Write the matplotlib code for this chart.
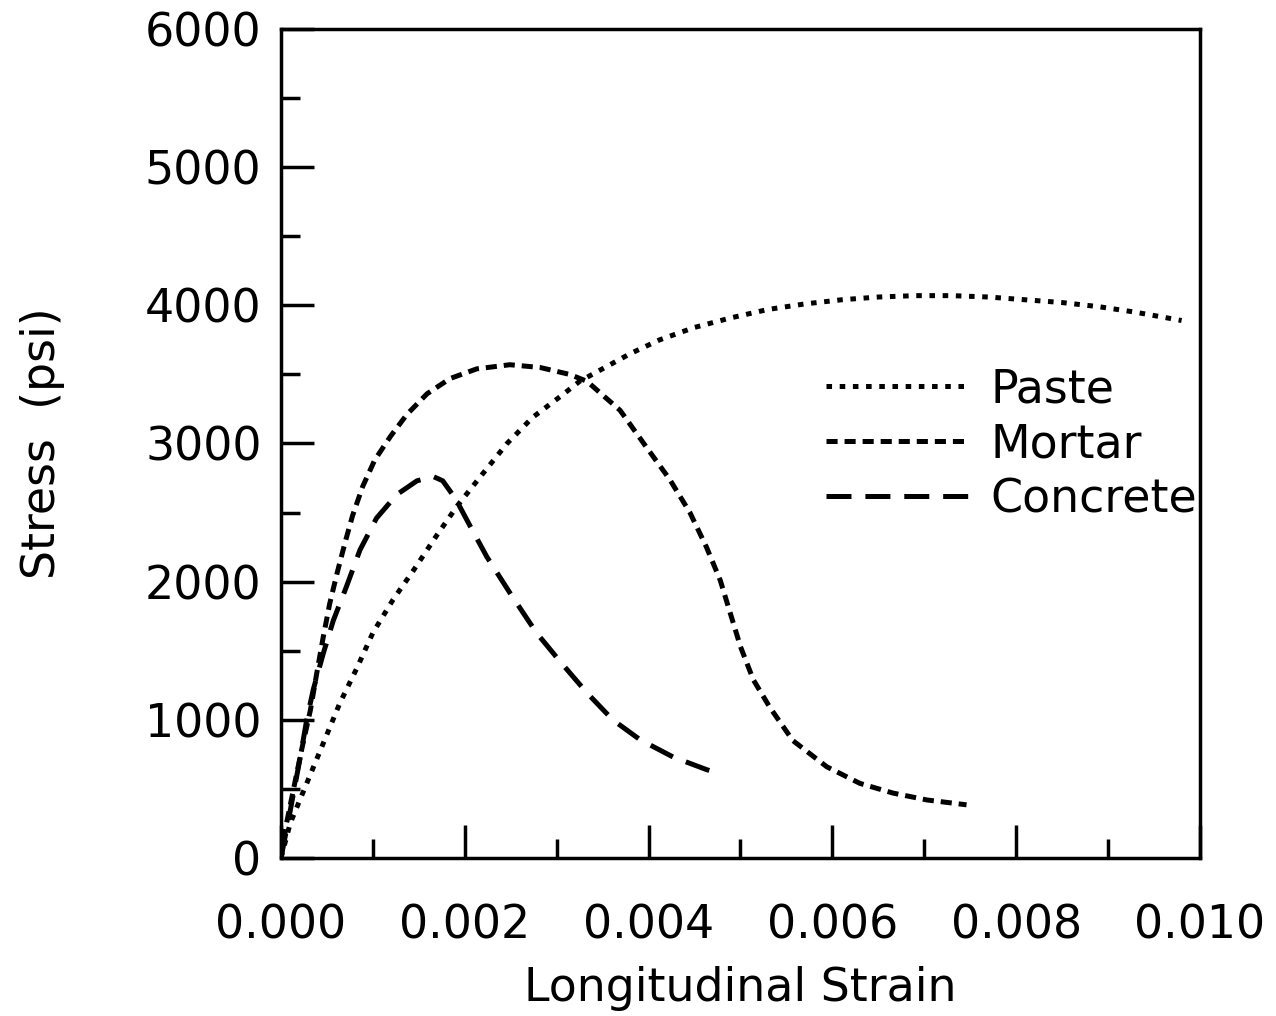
import matplotlib
matplotlib.use("Agg")
import matplotlib.pyplot as plt
from matplotlib.ticker import MultipleLocator

plt.rcParams['font.family'] = ['DejaVu Sans']
plt.rcParams['lines.scale_dashes'] = False

# stress-strain curves (strain, psi)
paste_strain = [0, 0.0001, 0.00028, 0.00046, 0.00064, 0.00083, 0.0010, 0.00122, 0.00144,
                0.0017, 0.00192, 0.00217, 0.00246, 0.00274, 0.00304, 0.00325, 0.00347,
                0.0038, 0.00412, 0.0045, 0.0049, 0.0053, 0.0057, 0.0061, 0.0065, 0.0069,
                0.0073, 0.0077, 0.0081, 0.0085, 0.0089, 0.0093, 0.0098]
paste_stress = [0, 250, 540, 830, 1120, 1380, 1630, 1870, 2080,
                2340, 2550, 2760, 3000, 3190, 3340, 3450, 3530,
                3650, 3750, 3840, 3910, 3970, 4010, 4040, 4060, 4070,
                4070, 4060, 4040, 4020, 3990, 3950, 3890]

mortar_strain = [0, 0.00006, 0.00014, 0.00023, 0.00032, 0.00039, 0.00046, 0.00053, 0.00061,
                 0.0007, 0.00078, 0.00089, 0.00102, 0.00119, 0.00137, 0.00159, 0.00184,
                 0.00213, 0.00249, 0.00282, 0.00314, 0.00333, 0.00369, 0.00398, 0.00423,
                 0.00445, 0.00463, 0.00478, 0.00489, 0.0050, 0.00514, 0.00532, 0.00557,
                 0.00594, 0.0063, 0.00666, 0.00703, 0.00746]
mortar_stress = [0, 250, 510, 800, 1070, 1340, 1600, 1840, 2060,
                 2290, 2480, 2690, 2880, 3050, 3210, 3360, 3470,
                 3540, 3570, 3550, 3500, 3450, 3240, 2970, 2740,
                 2500, 2250, 2010, 1770, 1530, 1290, 1090, 850,
                 660, 540, 470, 420, 385]

concrete_strain = [0, 0.0001, 0.00021, 0.00028, 0.00035, 0.00046, 0.00057, 0.00071, 0.00086,
                   0.00104, 0.00126, 0.00148, 0.00166, 0.00176, 0.0019, 0.00206, 0.00224,
                   0.00249, 0.00278, 0.00304, 0.00333, 0.00361, 0.00391, 0.00427, 0.00463,
                   0.0047]
concrete_stress = [0, 340, 730, 1000, 1215, 1480, 1720, 1960, 2230,
                   2460, 2630, 2730, 2760, 2730, 2600, 2400, 2180,
                   1920, 1630, 1420, 1195, 1000, 855, 730, 640,
                   625]

fig = plt.figure(figsize=(12.76, 10.16), dpi=100)
ax = fig.add_axes([0.2202, 0.1555, 0.7202, 0.816])

lw = 3.6
ax.plot(paste_strain, paste_stress, color='black', lw=lw,
        linestyle=(0, (4, 5.5)), label='Paste')
ax.plot(mortar_strain, mortar_stress, color='black', lw=lw,
        linestyle=(0, (8, 5)), label='Mortar')
ax.plot(concrete_strain, concrete_stress, color='black', lw=lw,
        linestyle=(0, (18, 10)), label='Concrete')

ax.set_xlim(0, 0.010)
ax.set_ylim(0, 6000)
ax.xaxis.set_major_locator(MultipleLocator(0.002))
ax.xaxis.set_minor_locator(MultipleLocator(0.001))
ax.yaxis.set_major_locator(MultipleLocator(1000))
ax.yaxis.set_minor_locator(MultipleLocator(500))
ax.xaxis.set_major_formatter(lambda v, p: f"{v:.3f}")

fs = 33
ax.tick_params(which='both', direction='in', top=False, right=False, width=2.5,
               labelsize=fs)
ax.tick_params(which='major', length=24)
ax.tick_params(which='minor', length=14)
ax.tick_params(axis='x', which='major', pad=33)
ax.tick_params(axis='y', which='major', pad=14)

for s in ax.spines.values():
    s.set_linewidth(2.5)

ax.set_xlabel('Longitudinal Strain', fontsize=fs, va='center')
ax.set_ylabel('Stress  (psi)', fontsize=fs, va='center')
ax.xaxis.set_label_coords(0.5, -0.157)
ax.yaxis.set_label_coords(-0.26, 0.5)

ax.legend(loc='upper left', bbox_to_anchor=(0.593, 0.592), frameon=False,
          fontsize=fs, handlelength=3.14, handletextpad=0.44, labelspacing=0.22,
          borderpad=0, borderaxespad=0)

fig.savefig('out.png', dpi=100)
